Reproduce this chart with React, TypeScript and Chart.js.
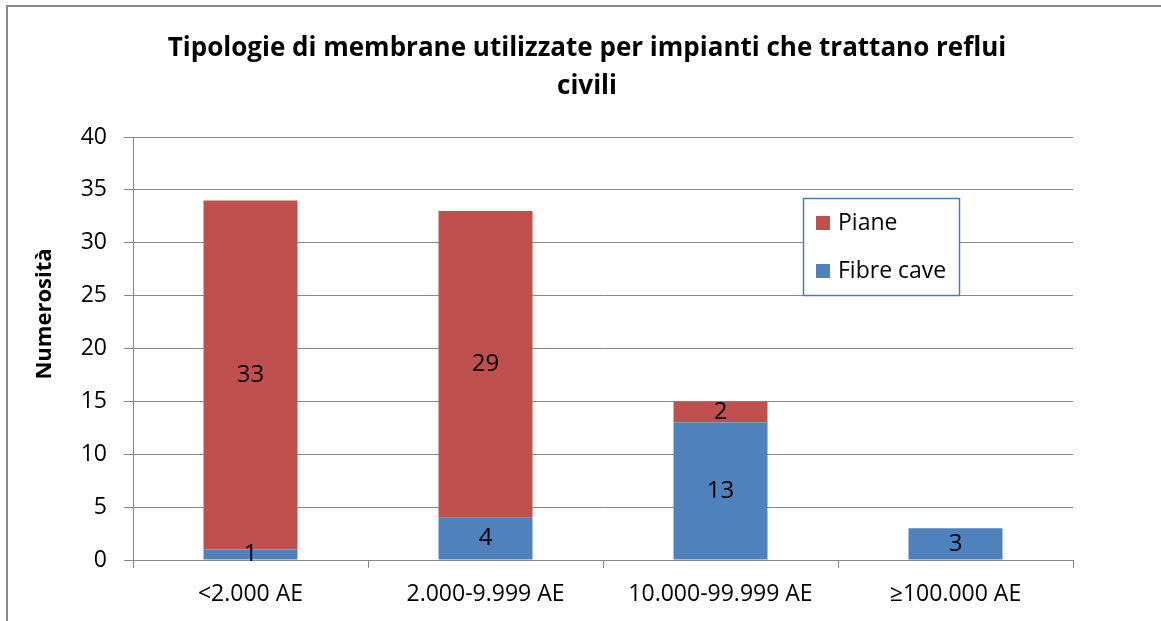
import React, { useEffect, useRef } from "react";
import { Chart, registerables } from "chart.js";

Chart.register(...registerables);

const categories = ["<2.000 AE", "2.000-9.999 AE", "10.000-99.999 AE", "≥100.000 AE"];
const fibreCave = [1, 4, 13, 3];
const piane = [33, 29, 2, 0];
const titleLines = ["Tipologie di membrane utilizzate per impianti che trattano reflui", "civili"];
const yTitle = "Numerosità";

const FONT = "'Open Sans', 'Noto Sans', sans-serif";
const RED = "#C0504D";
const BLUE = "#4F81BD";
const GRID = "#888888";

const decorPlugin = {
  id: "decor",
  beforeDraw(chart: any) {
    const ctx = chart.ctx;
    ctx.save();
    ctx.fillStyle = "#ffffff";
    ctx.fillRect(0, 0, chart.width, chart.height);
    ctx.strokeStyle = "#898989";
    ctx.lineWidth = 2;
    ctx.strokeRect(7, 6, chart.width + 20, chart.height + 20);
    ctx.restore();
  },
  afterDraw(chart: any) {
    const ctx = chart.ctx;
    ctx.save();
    // title
    ctx.fillStyle = "#000";
    ctx.textAlign = "center";
    ctx.textBaseline = "middle";
    ctx.font = `bold 26px ${FONT}`;
    ctx.fillText(titleLines[0], 587, 49);
    ctx.fillText(titleLines[1], 587, 87);
    // y title
    ctx.save();
    ctx.translate(45, 314);
    ctx.rotate(-Math.PI / 2);
    ctx.font = `bold 22px ${FONT}`;
    ctx.fillText(yTitle, 0, 0);
    ctx.restore();
    // data labels
    ctx.font = `24px ${FONT}`;
    chart.data.datasets.forEach((ds: any, di: number) => {
      const meta = chart.getDatasetMeta(di);
      meta.data.forEach((el: any, i: number) => {
        const v = ds.data[i];
        if (!v) return;
        const y = (el.y + el.base) / 2;
        ctx.fillText(String(v), el.x, y);
      });
    });
    // legend
    ctx.fillStyle = "#fff";
    ctx.fillRect(803.5, 198.5, 156, 97);
    ctx.strokeStyle = "#4A7EBB";
    ctx.lineWidth = 1.5;
    ctx.strokeRect(803.5, 198.5, 156, 97);
    const items = [chart.data.datasets[1], chart.data.datasets[0]];
    const ys = [223, 271];
    items.forEach((ds: any, k: number) => {
      ctx.fillStyle = ds.backgroundColor;
      ctx.fillRect(816, ys[k] - 7, 14, 14);
      ctx.fillStyle = "#000";
      ctx.textAlign = "left";
      ctx.font = `23px ${FONT}`;
      ctx.fillText(ds.label, 838, ys[k]);
    });
    ctx.restore();
  },
};

export default function App() {
  const ref = useRef<HTMLCanvasElement>(null);
  useEffect(() => {
    const chart = new Chart(ref.current!, {
      type: "bar",
      data: {
        labels: categories,
        datasets: [
          { label: "Fibre cave", data: fibreCave, backgroundColor: BLUE, barPercentage: 0.4, categoryPercentage: 1 },
          { label: "Piane", data: piane, backgroundColor: RED, barPercentage: 0.4, categoryPercentage: 1 },
        ],
      },
      options: {
        animation: false,
        responsive: false,
        layout: { padding: { left: 0, top: 137, right: 88, bottom: 0 } },
        plugins: { legend: { display: false }, title: { display: false }, tooltip: { enabled: false } },
        scales: {
          x: {
            stacked: true,
            grid: { drawOnChartArea: false, drawTicks: true, tickLength: 8, color: GRID, offset: true },
            border: { display: true, color: GRID, width: 1 },
            ticks: { color: "#000", font: { family: FONT, size: 23 }, padding: 13, maxRotation: 0 },
            afterFit: (s: any) => { s.height = 61; },
          },
          y: {
            stacked: true,
            min: 0,
            max: 40,
            ticks: { stepSize: 5, color: "#000", font: { family: FONT, size: 23 }, padding: 17 },
            grid: { color: GRID, tickLength: 9, drawTicks: true },
            border: { display: true, color: GRID, width: 1 },
            afterFit: (s: any) => { s.width = 133; },
          },
        },
      },
      plugins: [decorPlugin],
    });
    return () => chart.destroy();
  }, []);
  return (
    <div style={{ position: "absolute", left: 0, top: 0, width: 1161, height: 621, overflow: "hidden" }}>
      <canvas ref={ref} width={1161} height={621} style={{ display: "block" }} />
    </div>
  );
}
